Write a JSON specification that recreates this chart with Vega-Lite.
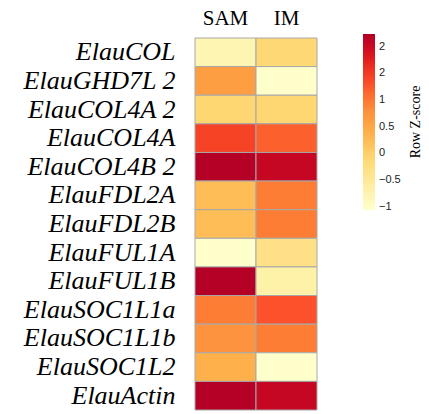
{
  "$schema": "https://vega.github.io/schema/vega-lite/v6.json",
  "autosize": "none",
  "width": 122,
  "height": 372,
  "padding": {"left": 195, "top": 38, "right": 112, "bottom": 4},
  "background": "white",
  "config": {"view": {"stroke": null}},
  "data": {"values": [
    {"gene": "ElauCOL", "tissue": "SAM", "z": -0.78},
    {"gene": "ElauCOL", "tissue": "IM", "z": -0.1},
    {"gene": "ElauGHD7L 2", "tissue": "SAM", "z": 0.61},
    {"gene": "ElauGHD7L 2", "tissue": "IM", "z": -1.05},
    {"gene": "ElauCOL4A 2", "tissue": "SAM", "z": -0.08},
    {"gene": "ElauCOL4A 2", "tissue": "IM", "z": -0.08},
    {"gene": "ElauCOL4A", "tissue": "SAM", "z": 1.42},
    {"gene": "ElauCOL4A", "tissue": "IM", "z": 1.18},
    {"gene": "ElauCOL4B 2", "tissue": "SAM", "z": 2.2},
    {"gene": "ElauCOL4B 2", "tissue": "IM", "z": 2.05},
    {"gene": "ElauFDL2A", "tissue": "SAM", "z": 0.23},
    {"gene": "ElauFDL2A", "tissue": "IM", "z": 0.96},
    {"gene": "ElauFDL2B", "tissue": "SAM", "z": 0.23},
    {"gene": "ElauFDL2B", "tissue": "IM", "z": 0.96},
    {"gene": "ElauFUL1A", "tissue": "SAM", "z": -1.05},
    {"gene": "ElauFUL1A", "tissue": "IM", "z": -0.31},
    {"gene": "ElauFUL1B", "tissue": "SAM", "z": 2.2},
    {"gene": "ElauFUL1B", "tissue": "IM", "z": -0.68},
    {"gene": "ElauSOC1L1a", "tissue": "SAM", "z": 0.96},
    {"gene": "ElauSOC1L1a", "tissue": "IM", "z": 1.28},
    {"gene": "ElauSOC1L1b", "tissue": "SAM", "z": 0.75},
    {"gene": "ElauSOC1L1b", "tissue": "IM", "z": 0.96},
    {"gene": "ElauSOC1L2", "tissue": "SAM", "z": 0.37},
    {"gene": "ElauSOC1L2", "tissue": "IM", "z": -1.05},
    {"gene": "ElauActin", "tissue": "SAM", "z": 2.2},
    {"gene": "ElauActin", "tissue": "IM", "z": 2.05}
  ]},
  "mark": {"type": "rect", "stroke": "#a8a8a8", "strokeWidth": 1},
  "encoding": {
    "x": {
      "field": "tissue", "type": "nominal", "sort": ["SAM", "IM"],
      "scale": {"paddingInner": 0, "paddingOuter": 0},
      "axis": {"orient": "top", "title": null, "ticks": false, "domain": false, "labelAngle": 0,
               "labelFont": "serif", "labelFontSize": 21, "labelColor": "black", "labelPadding": 10}
    },
    "y": {
      "field": "gene", "type": "nominal",
      "sort": ["ElauCOL", "ElauGHD7L 2", "ElauCOL4A 2", "ElauCOL4A", "ElauCOL4B 2", "ElauFDL2A", "ElauFDL2B", "ElauFUL1A", "ElauFUL1B", "ElauSOC1L1a", "ElauSOC1L1b", "ElauSOC1L2", "ElauActin"],
      "scale": {"paddingInner": 0, "paddingOuter": 0},
      "axis": {"title": null, "ticks": false, "domain": false,
               "labelFont": "serif", "labelFontStyle": "italic", "labelFontSize": 26, "labelColor": "black", "labelPadding": 20}
    },
    "color": {
      "field": "z", "type": "quantitative",
      "scale": {"domain": [-1.06, 2.24], "range": ["#ffffcc", "#ffeda0", "#fed976", "#feb24c", "#fd8d3c", "#fc4e2a", "#e31a1c", "#b10026"]},
      "legend": {
        "orient": "none", "legendX": 168, "legendY": -4,
        "title": "Row Z-score", "titleOrient": "right",
        "titleFont": "serif", "titleFontSize": 14, "titleFontWeight": "normal", "titleColor": "black",
        "titleAnchor": "middle", "titlePadding": 22,
        "gradientLength": 176, "gradientThickness": 12, "gradientStrokeWidth": 0,
        "values": [-1, -0.5, 0, 0.5, 1, 1.5, 2],
        "format": "~g",
        "labelOverlap": false,
        "labelFont": "Liberation Sans", "labelFontSize": 11, "labelColor": "#222", "labelOffset": 4,
        "direction": "vertical",
        "encode": {"title": {"update": {"angle": {"value": 270}}}}
      }
    }
  }
}
